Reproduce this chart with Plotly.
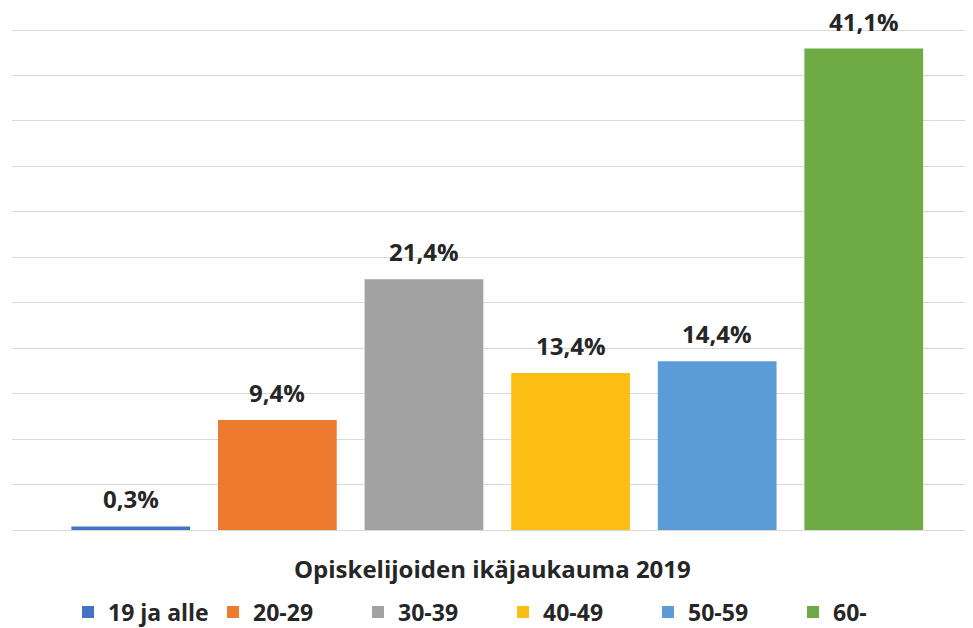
import plotly.graph_objects as go

categories = ["19 ja alle", "20-29", "30-39", "40-49", "50-59", "60-"]
values = [0.3, 9.4, 21.4, 13.4, 14.4, 41.1]
labels = ["0,3%", "9,4%", "21,4%", "13,4%", "14,4%", "41,1%"]
colors = ["#4472C4", "#EE7A30", "#A2A2A2", "#FDBE14", "#5A9BD8", "#6EAB45"]
title_text = "Opiskelijoiden ikäjaukauma 2019"

FONT = "Open Sans"
TXT = "#262626"

fig = go.Figure()
for cat, val, lab, col in zip(categories, values, labels, colors):
    fig.add_trace(go.Bar(
        x=[cat], y=[val], name=cat,
        marker=dict(color=col, line=dict(width=0)),
        width=0.81,
    ))
    fig.add_annotation(x=cat, y=val, text="<b>" + lab + "</b>", showarrow=False,
                       yanchor="bottom", yshift=9,
                       font=dict(family=FONT, size=24, color=TXT))

fig.add_annotation(xref="paper", yref="paper", x=0.5, y=-0.076, yanchor="middle",
                   text="<b>" + title_text + "</b>", showarrow=False,
                   font=dict(family=FONT, size=24, color=TXT))

dt = 3.88
fig.update_layout(
    width=965, height=620,
    margin=dict(l=4, r=0, t=19, b=98, autoexpand=False),
    paper_bgcolor="white", plot_bgcolor="white",
    barmode="overlay",
    showlegend=True,
    legend=dict(orientation="h", x=0.0583, xanchor="left", y=-0.163, yanchor="middle",
                entrywidth=100, entrywidthmode="pixels",
                font=dict(family=FONT, size=23, color=TXT, weight="bold"),
                traceorder="normal", itemclick=False),
    xaxis=dict(range=[-0.81, 5.745], showticklabels=False, showgrid=False,
               zeroline=False, showline=False),
    yaxis=dict(range=[0, dt * (11 + 3 / 45.45)], dtick=dt, tick0=0, showticklabels=False,
               showgrid=True, gridcolor="#D9D9D9", gridwidth=1.3,
               zeroline=True, zerolinecolor="#D9D9D9", zerolinewidth=1.3,
               showline=False),
)
fig.write_html("out.html")
